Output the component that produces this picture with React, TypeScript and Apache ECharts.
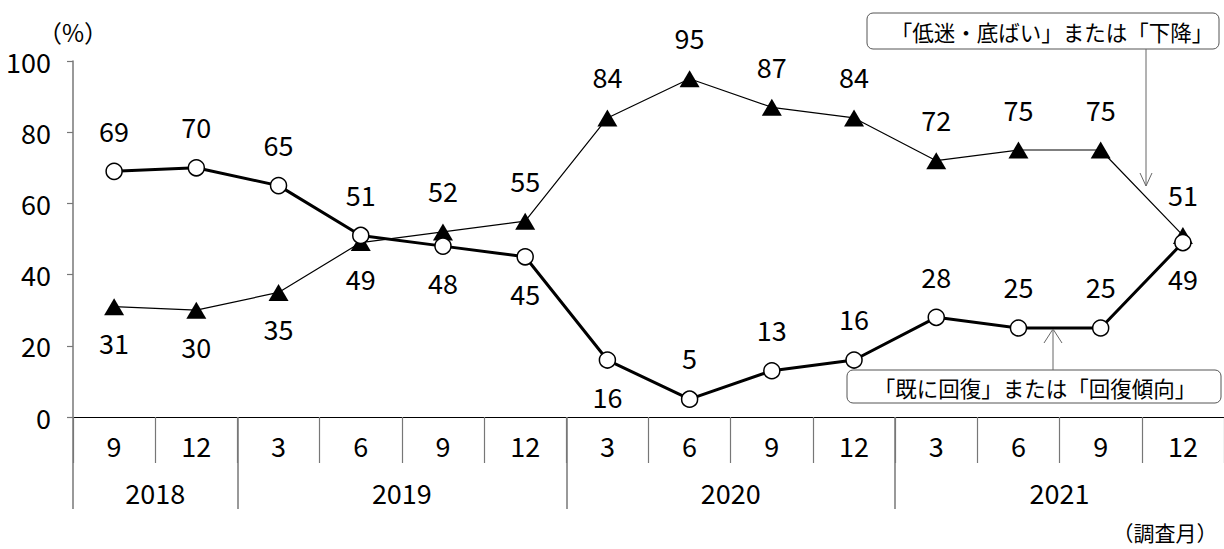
import React, { useEffect, useRef } from "react";
import * as echarts from "echarts";

const months = ["9", "12", "3", "6", "9", "12", "3", "6", "9", "12", "3", "6", "9", "12"];
const years = ["2018", "2019", "2020", "2021"];
const yearBounds = [0, 2, 6, 10];
const yearCenters = [1, 4, 8, 12];
const declineValues = [31, 30, 35, 49, 52, 55, 84, 95, 87, 84, 72, 75, 75, 51];
const recoveryValues = [69, 70, 65, 51, 48, 45, 16, 5, 13, 16, 28, 25, 25, 49];
const declineLabelPos = ["bottom", "bottom", "bottom", "bottom", "top", "top", "top", "top", "top", "top", "top", "top", "top", "top"];
const recoveryLabelPos = ["top", "top", "top", "top", "bottom", "bottom", "bottom", "top", "top", "top", "top", "top", "top", "bottom"];
const yTicks = { min: 0, max: 100, interval: 20 };

const NUM_FONT = "'Noto Sans CJK JP', sans-serif";
const JP_FONT = "'Noto Sans CJK JP', sans-serif";

export default function App() {
  const ref = useRef<HTMLDivElement>(null);
  useEffect(() => {
    document.body.style.margin = "0";
    const chart = echarts.init(ref.current!, undefined, { renderer: "svg" });
    const labelBase = {
      show: true,
      fontFamily: NUM_FONT,
      fontSize: 27,
      color: "#000",
    };
    const dist = (p: string) => (p === "top" ? 19 : 14);
    chart.setOption({
      animation: false,
      grid: { left: 73, right: -3, top: 61, bottom: 132, containLabel: false },
      xAxis: [
        {
          type: "category",
          data: months,
          boundaryGap: true,
          axisLine: { show: true, lineStyle: { color: "#000", width: 1.2 } },
          axisTick: {
            show: true,
            alignWithLabel: false,
            length: 46,
            lineStyle: { color: "#777", width: 1.2 },
          },
          axisLabel: {
            fontFamily: NUM_FONT,
            fontSize: 27,
            color: "#000",
            margin: 15,
            interval: 0,
          },
          splitLine: { show: false },
        },
        {
          type: "value",
          min: 0,
          max: 14,
          position: "bottom",
          axisLine: { show: false },
          axisTick: {
            show: true,
            customValues: yearBounds,
            length: 92,
            lineStyle: { color: "#777", width: 1.5 },
          },
          axisLabel: {
            customValues: yearCenters,
            formatter: (v: number) => years[yearCenters.indexOf(v)] ?? "",
            fontFamily: NUM_FONT,
            fontSize: 27,
            color: "#000",
            margin: 62,
          },
          splitLine: { show: false },
        },
      ],
      yAxis: {
        type: "value",
        min: yTicks.min,
        max: yTicks.max,
        interval: yTicks.interval,
        axisLine: { show: true, lineStyle: { color: "#777", width: 1.5 } },
        axisTick: { show: true, length: 6, lineStyle: { color: "#777", width: 1.2 } },
        axisLabel: {
          fontFamily: NUM_FONT,
          fontSize: 27,
          color: "#000",
          margin: 22,
        },
        splitLine: { show: false },
      },
      series: [
        {
          type: "line",
          name: "decline",
          xAxisIndex: 0,
          data: declineValues.map((v, i) => ({
            value: v,
            label: { position: declineLabelPos[i], distance: dist(declineLabelPos[i]) },
          })),
          symbol: "triangle",
          symbolSize: [20, 17],
          itemStyle: { color: "#000", borderWidth: 0 },
          lineStyle: { color: "#000", width: 1.2 },
          label: { ...labelBase },
          z: 2,
        },
        {
          type: "line",
          name: "recovery",
          xAxisIndex: 0,
          data: recoveryValues.map((v, i) => ({
            value: v,
            label: { position: recoveryLabelPos[i], distance: dist(recoveryLabelPos[i]) },
          })),
          symbol: "circle",
          symbolSize: 16,
          itemStyle: { color: "#fff", borderColor: "#000", borderWidth: 1.5 },
          lineStyle: { color: "#000", width: 3 },
          label: { ...labelBase },
          z: 3,
        },
      ],
      graphic: [
        {
          type: "text",
          x: 73,
          y: 31,
          style: {
            text: "（%）",
            fontFamily: JP_FONT,
            fontSize: 24,
            fill: "#000",
            align: "center",
            verticalAlign: "middle",
          },
        },
        {
          type: "text",
          x: 1165,
          y: 532,
          style: {
            text: "（調査月）",
            fontFamily: JP_FONT,
            fontSize: 21,
            fill: "#000",
            align: "center",
            verticalAlign: "middle",
          },
        },
        {
          type: "rect",
          shape: { x: 867, y: 13, width: 352, height: 36, r: 6 },
          style: { fill: "#fff", stroke: "#555", lineWidth: 1 },
          z: 10,
        },
        {
          type: "text",
          x: 1052,
          y: 31,
          style: {
            text: "「低迷・底ばい」または「下降」",
            fontFamily: JP_FONT,
            fontSize: 21.5,
            fill: "#000",
            align: "center",
            verticalAlign: "middle",
          },
          z: 11,
        },
        {
          type: "line",
          shape: { x1: 1146, y1: 49, x2: 1146, y2: 186 },
          style: { stroke: "#666", lineWidth: 1 },
          z: 10,
        },
        {
          type: "polyline",
          shape: { points: [[1140, 173], [1146, 186], [1152, 173]] },
          style: { stroke: "#666", lineWidth: 1, fill: null },
          z: 10,
        },
        {
          type: "rect",
          shape: { x: 847, y: 370, width: 374, height: 33, r: 6 },
          style: { fill: "#fff", stroke: "#555", lineWidth: 1 },
          z: 10,
        },
        {
          type: "text",
          x: 1035,
          y: 387,
          style: {
            text: "「既に回復」または「回復傾向」",
            fontFamily: JP_FONT,
            fontSize: 21.5,
            fill: "#000",
            align: "center",
            verticalAlign: "middle",
          },
          z: 11,
        },
        {
          type: "line",
          shape: { x1: 1053, y1: 370, x2: 1053, y2: 329 },
          style: { stroke: "#666", lineWidth: 1 },
          z: 10,
        },
        {
          type: "polyline",
          shape: { points: [[1044, 343], [1053, 329], [1062, 343]] },
          style: { stroke: "#666", lineWidth: 1, fill: null },
          z: 10,
        },
      ],
    });
    return () => chart.dispose();
  }, []);
  return <div ref={ref} style={{ width: 1224, height: 549 }} />;
}
